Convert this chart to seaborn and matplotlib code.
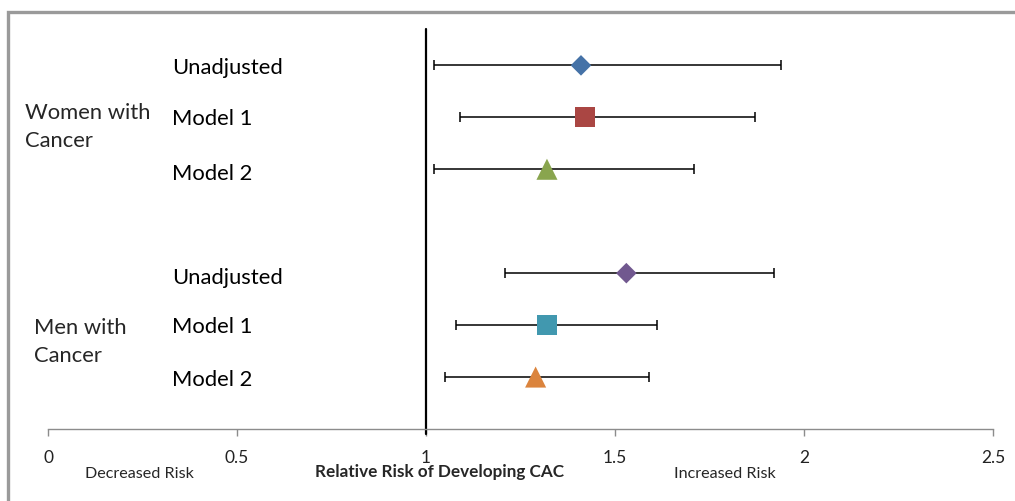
import matplotlib
matplotlib.use("Agg")
import matplotlib.pyplot as plt
import matplotlib.transforms as mtransforms
import pandas as pd
import seaborn as sns
from matplotlib.patches import Rectangle

# valeurs
groups = ["Women with\nCancer", "Men with\nCancer"]
models = ["Unadjusted", "Model 1", "Model 2"]
row_pos = [0, 1, 2, 4, 5, 6]
rr = [1.41, 1.42, 1.32, 1.53, 1.32, 1.29]
ci_low = [1.02, 1.09, 1.02, 1.21, 1.08, 1.05]
ci_high = [1.94, 1.87, 1.71, 1.92, 1.61, 1.59]
series = ["w_unadj", "w_m1", "w_m2", "m_unadj", "m_m1", "m_m2"]
colors = ["#4572A7", "#AA4643", "#89A54E", "#71588F", "#4198AF", "#DB843D"]
markers = ["D", "s", "^", "D", "s", "^"]
sizes = [110, 210, 230, 110, 210, 230]
xticks = [0, 0.5, 1, 1.5, 2, 2.5]

sns.set_theme(style="white")
plt.rcParams["font.family"] = ["Lato", "DejaVu Sans"]

df = pd.DataFrame({"series": series, "rr": rr, "y": row_pos,
                   "lo": ci_low, "hi": ci_high})

fig = plt.figure(figsize=(10.15, 5.01), dpi=100)
W, H = 1015, 501
ax = fig.add_axes([48 / W, (H - 429) / H, (993 - 48) / W, 400 / H])

# intervalles de confiance
ax.errorbar(df["rr"], df["y"], xerr=[df["rr"] - df["lo"], df["hi"] - df["rr"]],
            fmt="none", ecolor="black", elinewidth=1.1, capsize=3.5,
            capthick=1.1, zorder=2)

sns.scatterplot(data=df, x="rr", y="y", hue="series", style="series",
                size="series", sizes=dict(zip(series, sizes)),
                palette=dict(zip(series, colors)),
                markers=dict(zip(series, markers)),
                edgecolor="none", legend=False, ax=ax, zorder=3)

ax.axvline(1, ymin=-0.012, ymax=1, color="black", lw=1.6, clip_on=False, zorder=1)

ax.set_xlim(0, 2.5)
ax.set_ylim(7, -0.7)
ax.set_xticks(xticks)
ax.set_xticklabels([f"{t:g}" for t in xticks], fontsize=12.5, color="#222222")
ax.set_yticks([])
ax.set_xlabel("")
ax.set_ylabel("")
for s in ["top", "right", "left"]:
    ax.spines[s].set_visible(False)
ax.spines["bottom"].set_color("#8c8c8c")
ax.spines["bottom"].set_linewidth(1.0)
ax.tick_params(axis="x", direction="out", length=5, width=1.0, color="#8c8c8c",
               bottom=True, pad=10)

# libelles des lignes (petit decalage vers le bas comme dans l'original)
label_shift = [0.05, 0.03, 0.1, 0.1, 0.03, 0.05]
for i, y in enumerate(row_pos):
    ax.text(0.328, y + label_shift[i], models[i % 3], fontsize=15.8, va="center",
            ha="left", color="black")
ax.text(-0.061, 1.19, groups[0], fontsize=15.8, va="center", ha="left", linespacing=1.5)
ax.text(-0.037, 5.33, groups[1], fontsize=15.8, va="center", ha="left", linespacing=1.5)

# legende sous l'axe
trans = mtransforms.blended_transform_factory(ax.transData, fig.transFigure)
ax.text(0.243, (H - 474) / H, "Decreased Risk", transform=trans, ha="center",
        va="center", fontsize=11.6)
ax.text(1.037, (H - 472) / H, "Relative Risk of Developing CAC", transform=trans,
        ha="center", va="center", fontsize=12.3, fontweight="bold")
ax.text(1.79, (H - 474) / H, "Increased Risk", transform=trans, ha="center",
        va="center", fontsize=11.6)

# cadre gris
fig.patches.append(Rectangle((8 / W, -0.05), 1.1, (H - 12) / H + 0.05,
                             transform=fig.transFigure, fill=False,
                             edgecolor="#9a9a9a", lw=2.4))

fig.savefig("out.png", dpi=100)
